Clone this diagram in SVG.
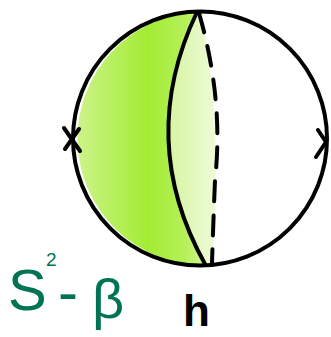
<svg xmlns="http://www.w3.org/2000/svg" width="331" height="337" viewBox="0 0 331 337">
<defs>
<style>
.ln{fill:none;stroke:#000;stroke-width:4;stroke-linecap:round;stroke-linejoin:round}
.lab{font-family:"Liberation Sans",Arial,sans-serif}
.gr{fill:#007452}
</style>
<linearGradient id="g1" x1="0" y1="0" x2="1" y2="0">
<stop offset="0" stop-color="#cdf38a"/>
<stop offset="0.55" stop-color="#a2ec34"/>
<stop offset="0.85" stop-color="#b6f05a"/>
<stop offset="1" stop-color="#d2f690"/>
</linearGradient>
<linearGradient id="g2" x1="0" y1="0" x2="1" y2="0">
<stop offset="0" stop-color="#d6f5a0"/>
<stop offset="1" stop-color="#eefbd8"/>
</linearGradient>
</defs>
<g id="fill">
<path d="M197,12 A126.6,126.6 0 0 0 205,265 Q136,140 197,12 Z" fill="url(#g1)"/>
<path d="M197,13 Q136,140 204,264 L212,262 Q222,140 206,40 Z" fill="url(#g2)"/>
</g>
<g id="sphere">
<circle cx="200" cy="138.5" r="127" class="ln"/>
</g>
<g id="connectors">
<path d="M197,12 Q136,140 205,264" class="ln" stroke-width="3.5"/>
<path d="M199,13 Q224,100 215,180 Q213,230 212,263" class="ln" stroke-dasharray="20,14"/>
<path d="M64,128 L80,151 M79,129 L65,149" class="ln" stroke-width="5"/>
<path d="M318,130 L326,142 L316,157" class="ln"/>
</g>
<g id="labels">
<text x="8" y="310" class="lab gr" font-size="58">S</text>
<text x="46" y="266" class="lab gr" font-size="19">2</text>
<text x="58" y="312" class="lab gr" font-size="60">-</text>
<text x="92" y="318" class="lab gr" font-size="56">β</text>
<text x="183" y="326" class="lab" font-size="44" font-weight="bold" fill="#000">h</text>
</g>
</svg>
